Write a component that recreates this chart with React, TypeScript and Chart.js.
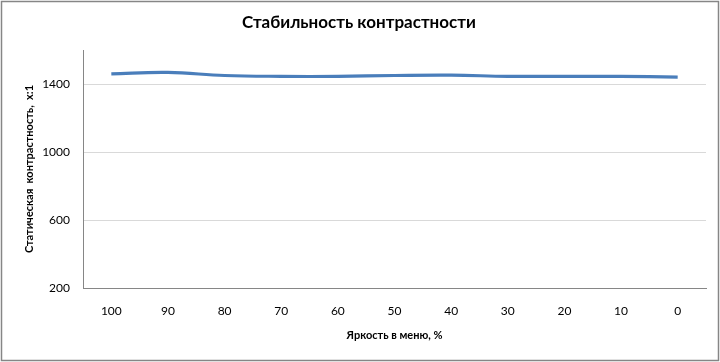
import React, { useEffect, useRef } from "react";
import { Chart, registerables } from "chart.js";

Chart.register(...registerables);

const title = "Стабильность контрастности";
const yTitle = "Статическая  контрастность,  х:1";
const xTitle = "Яркость в меню, %";
const categories = ["100", "90", "80", "70", "60", "50", "40", "30", "20", "10", "0"];
const contrast = [1460, 1468, 1450, 1445, 1445, 1450, 1452, 1445, 1445, 1445, 1440];
const yTicks = [200, 600, 1000, 1400];

const FONT = "Lato, 'Open Sans', 'Noto Sans', sans-serif";

const framePlugin = {
  id: "frame",
  afterDraw(chart: any) {
    const ctx = chart.ctx;
    ctx.save();
    ctx.strokeStyle = "#868686";
    ctx.lineWidth = 1.5;
    ctx.strokeRect(1.5, 1.5, 717, 359);
    ctx.fillStyle = "#000";
    ctx.font = `bold 17px ${FONT}`;
    ctx.textAlign = "center";
    ctx.textBaseline = "middle";
    ctx.fillText(title, 359, 23);
    ctx.restore();
  },
};

export default function App() {
  const ref = useRef<HTMLCanvasElement>(null);
  useEffect(() => {
    document.body.style.margin = "0";
    const chart = new Chart(ref.current!, {
      type: "line",
      data: {
        labels: categories,
        datasets: [
          {
            data: contrast,
            borderColor: "#4a7ebb",
            borderWidth: 3.2,
            pointRadius: 0,
            tension: 0.4,
            fill: false,
          },
        ],
      },
      options: {
        animation: false,
        responsive: false,
        maintainAspectRatio: false,
        layout: { padding: { top: 50, right: 14, left: 0, bottom: 0 } },
        plugins: { legend: { display: false }, tooltip: { enabled: false } },
        scales: {
          x: {
            offset: true,
            grid: { display: false, drawTicks: false },
            border: { color: "#868686", width: 1 },
            ticks: { padding: 16, color: "#000", font: { family: FONT, size: 12 } },
            title: {
              display: true,
              text: xTitle,
              color: "#000",
              font: { family: FONT, size: 11, weight: "bold" },
              padding: { top: 0, bottom: 20 },
            },
            afterFit(scale: any) {
              scale.height = 74;
            },
          },
          y: {
            min: 200,
            max: 1600,
            afterBuildTicks(scale: any) {
              scale.ticks = [...yTicks, 1600].map((v) => ({ value: v }));
            },
            grid: {
              drawTicks: false,
              color: (c: any) => (c.tick && c.tick.value === 1600 ? "rgba(0,0,0,0)" : "#d9d9d9"),
            },
            border: { color: "#868686", width: 1 },
            ticks: {
              padding: 13,
              color: "#000",
              font: { family: FONT, size: 12 },
              callback: (v: any) => (yTicks.includes(Number(v)) ? String(v) : ""),
            },
            title: {
              display: true,
              text: yTitle,
              color: "#000",
              font: { family: FONT, size: 11, weight: "bold" },
              padding: { top: 23, bottom: 0 },
            },
            afterFit(scale: any) {
              scale.width = 83;
            },
          },
        },
      },
      plugins: [framePlugin],
    });
    return () => chart.destroy();
  }, []);
  return (
    <div style={{ width: 720, height: 362 }}>
      <canvas ref={ref} width={720} height={362} style={{ display: "block" }} />
    </div>
  );
}
